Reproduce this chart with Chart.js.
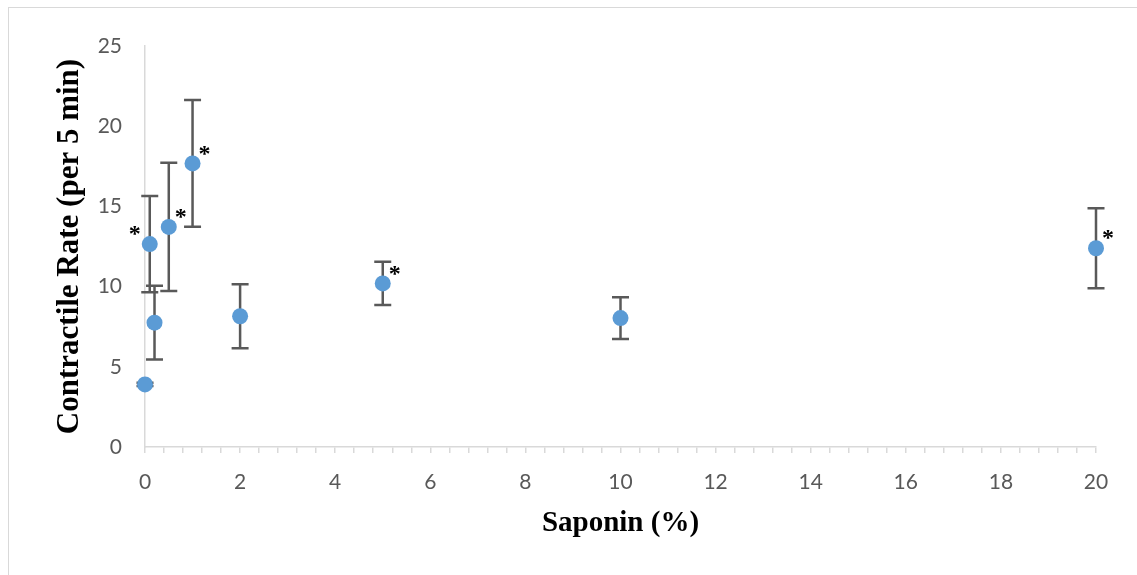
<!DOCTYPE html>
<html>
<head>
<meta charset="utf-8">
<script src="https://cdn.jsdelivr.net/npm/chart.js@4.4.0/dist/chart.umd.min.js"></script>
<style>
    html, body { margin: 0; padding: 0; background: #fff; overflow: hidden; }
    #wrap { position: relative; width: 1137px; height: 575px; }
</style>
</head>
<body>
<div id="wrap"><canvas id="saponin_chart"></canvas></div>
<script>
    // values
    var saponin = [0, 0.1, 0.2, 0.5, 1, 2, 5, 10, 20];
    var rate = [3.9, 12.65, 7.75, 13.72, 17.68, 8.15, 10.2, 8.04, 12.39];
    var rateErr = [0.1, 3.0, 2.3, 4.0, 3.95, 2.0, 1.35, 1.3, 2.5];
    var starred = [false, true, false, true, true, false, true, false, true];
    var xTickLabels = [0, 2, 4, 6, 8, 10, 12, 14, 16, 18, 20];
    var yTickLabels = [0, 5, 10, 15, 20, 25];

    var points = saponin.map(function(x, i) { return {x: x, y: rate[i]}; });

    // light grey frame round the whole chart
    var framePlugin = {
        id: 'frame',
        beforeDraw: function(chart) {
            var ctx = chart.ctx;
            ctx.save();
            ctx.strokeStyle = '#d9d9d9';
            ctx.lineWidth = 1;
            ctx.strokeRect(8.5, 7.5, 1200, 700);
            ctx.restore();
        }
    };

    // vertical error bars, drawn under the markers
    var errorBarPlugin = {
        id: 'errorBars',
        beforeDatasetsDraw: function(chart) {
            var ctx = chart.ctx;
            var xs = chart.scales.x, ys = chart.scales.y;
            ctx.save();
            ctx.strokeStyle = '#595959';
            ctx.lineWidth = 2.5;
            rate.forEach(function(v, i) {
                var px = xs.getPixelForValue(saponin[i]);
                var top = ys.getPixelForValue(v + rateErr[i]);
                var bot = ys.getPixelForValue(v - rateErr[i]);
                ctx.beginPath();
                ctx.moveTo(px, top); ctx.lineTo(px, bot);
                ctx.moveTo(px - 8.5, top); ctx.lineTo(px + 8.5, top);
                ctx.moveTo(px - 8.5, bot); ctx.lineTo(px + 8.5, bot);
                ctx.stroke();
            });
            ctx.restore();
        }
    };

    // asterisks for significant points
    var starPlugin = {
        id: 'stars',
        afterDatasetsDraw: function(chart, args, opts) {
            var ctx = chart.ctx;
            var xs = chart.scales.x, ys = chart.scales.y;
            ctx.save();
            ctx.fillStyle = '#000';
            ctx.font = 'bold 24px "Liberation Serif"';
            ctx.textAlign = 'center';
            ctx.textBaseline = 'middle';
            starred.forEach(function(s, i) {
                if (!s) return;
                var dx = opts.left.indexOf(i) >= 0 ? -15 : 12;
                var px = xs.getPixelForValue(saponin[i]) + dx;
                var py = ys.getPixelForValue(rate[i]) - 13;
                ctx.fillText('*', px, py + 4);
            });
            ctx.restore();
        }
    };

    var tickFont = {family: 'Lato', size: 21};

    var ctx = document.getElementById("saponin_chart").getContext("2d");
    new Chart(ctx, {
        type: 'scatter',
        data: {
            datasets: [{
                label: 'Contractile Rate',
                data: points,
                backgroundColor: '#5b9bd5',
                borderWidth: 0,
                pointRadius: 8,
                pointHoverRadius: 8,
                clip: false
            }]
        },
        options: {
            responsive: true,
            maintainAspectRatio: false,
            animation: false,
            layout: {padding: {left: 0, top: 46, right: 41, bottom: 0}},
            plugins: {
                legend: {display: false},
                tooltip: {enabled: false},
                stars: {left: [1]}
            },
            scales: {
                x: {
                    type: 'linear',
                    min: 0,
                    max: 20,
                    afterFit: function(s) { s.height = 128; },
                    afterBuildTicks: function(s) {
                        var t = [];
                        for (var k = 0; k <= 50; k++) t.push({value: Math.round(k * 0.4 * 10) / 10});
                        s.ticks = t;
                    },
                    border: {display: true, color: '#d9d9d9', width: 1.5},
                    grid: {drawOnChartArea: false, drawTicks: true, tickLength: 6, color: '#d9d9d9', lineWidth: 1.5},
                    ticks: {
                        autoSkip: false,
                        maxRotation: 0,
                        padding: 17,
                        color: '#595959',
                        font: tickFont,
                        callback: function(v) {
                            return xTickLabels.indexOf(v) >= 0 ? String(v) : '';
                        }
                    },
                    title: {
                        display: true,
                        text: 'Saponin (%)',
                        color: '#000',
                        font: {family: 'Liberation Serif', size: 29, weight: 'bold'},
                        padding: {top: 0, bottom: 34}
                    }
                },
                y: {
                    type: 'linear',
                    min: 0,
                    max: 25,
                    afterFit: function(s) { s.width = 145; },
                    afterBuildTicks: function(s) {
                        s.ticks = yTickLabels.map(function(v) { return {value: v}; });
                    },
                    border: {display: true, color: '#d9d9d9', width: 1.5},
                    grid: {display: false, drawTicks: false},
                    ticks: {
                        padding: 23,
                        color: '#595959',
                        font: tickFont
                    },
                    title: {
                        display: true,
                        text: 'Contractile Rate (per 5 min)',
                        color: '#000',
                        font: {family: 'Liberation Serif', size: 31, weight: 'bold'},
                        padding: {top: 51, bottom: 0}
                    }
                }
            }
        },
        plugins: [framePlugin, errorBarPlugin, starPlugin]
    });
</script>
</body>
</html>
